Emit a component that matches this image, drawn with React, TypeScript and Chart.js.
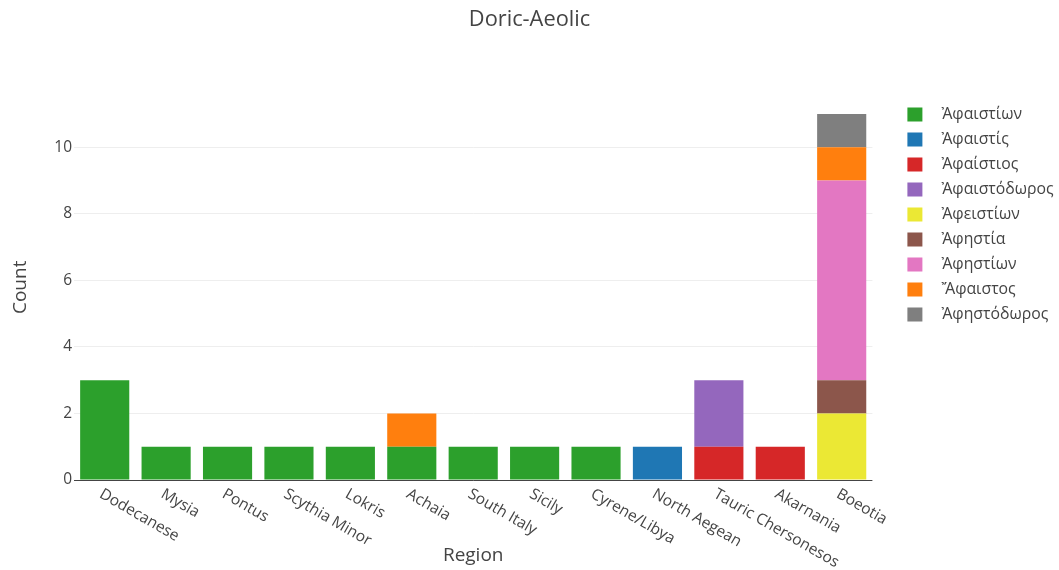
import { useEffect, useRef } from 'react';
import { Chart, registerables } from 'chart.js';

Chart.register(...registerables);

const chartTitle = 'Doric-Aeolic';
const xTitle = 'Region';
const yTitle = 'Count';

const categories = [
  'Dodecanese', 'Mysia', 'Pontus', 'Scythia Minor', 'Lokris', 'Achaia', 'South Italy',
  'Sicily', 'Cyrene/Libya', 'North Aegean', 'Tauric Chersonesos', 'Akarnania', 'Boeotia',
];

const seriesNames = [
  'Ἀφαιστίων', 'Ἀφαιστίς', 'Ἀφαίστιος', 'Ἀφαιστόδωρος', 'Ἀφειστίων',
  'Ἀφηστία', 'Ἀφηστίων', 'Ἄφαιστος', 'Ἀφηστόδωρος',
];

const seriesColors = [
  '#2ca02c', '#1f77b4', '#d62728', '#9467bd', '#ebe834',
  '#8c564b', '#e377c2', '#ff7f0e', '#7f7f7f',
];

// values per category, in the order of `categories`
const afaistion = [3, 1, 1, 1, 1, 1, 1, 1, 1, 0, 0, 0, 0];
const afaistis = [0, 0, 0, 0, 0, 0, 0, 0, 0, 1, 0, 0, 0];
const afaistios = [0, 0, 0, 0, 0, 0, 0, 0, 0, 0, 1, 1, 0];
const afaistodoros = [0, 0, 0, 0, 0, 0, 0, 0, 0, 0, 2, 0, 0];
const afeistion = [0, 0, 0, 0, 0, 0, 0, 0, 0, 0, 0, 0, 2];
const afestia = [0, 0, 0, 0, 0, 0, 0, 0, 0, 0, 0, 0, 1];
const afestion = [0, 0, 0, 0, 0, 0, 0, 0, 0, 0, 0, 0, 6];
const afaistos = [0, 0, 0, 0, 0, 1, 0, 0, 0, 0, 0, 0, 1];
const afestodoros = [0, 0, 0, 0, 0, 0, 0, 0, 0, 0, 0, 0, 1];

const seriesValues = [
  afaistion, afaistis, afaistios, afaistodoros, afeistion,
  afestia, afestion, afaistos, afestodoros,
];

const yTicks = [0, 2, 4, 6, 8, 10];
const yMax = 11.58;

const FONT = '"Open Sans", "Noto Sans", sans-serif';
const TEXT = '#444';

const rotatedXLabels = {
  id: 'rotatedXLabels',
  afterDraw(chart: any) {
    const ctx = chart.ctx;
    const xs = chart.scales.x;
    const base = chart.chartArea.bottom;
    ctx.save();
    ctx.font = `15.5px ${FONT}`;
    ctx.fillStyle = TEXT;
    ctx.textAlign = 'left';
    ctx.textBaseline = 'middle';
    (chart.data.labels as string[]).forEach((lab, i) => {
      const x = xs.getPixelForValue(i);
      ctx.save();
      ctx.translate(x - 4, base + 13);
      ctx.rotate(Math.PI / 6);
      ctx.fillText(lab, 0, 0);
      ctx.restore();
    });
    ctx.restore();
  },
};

const sideLegend = {
  id: 'sideLegend',
  afterDraw(chart: any) {
    const ctx = chart.ctx;
    const x0 = chart.chartArea.right + 35;
    ctx.save();
    ctx.font = `15.8px ${FONT}`;
    ctx.textAlign = 'left';
    ctx.textBaseline = 'middle';
    chart.data.datasets.forEach((ds: any, i: number) => {
      const y = 114.5 + i * 25;
      ctx.fillStyle = ds.backgroundColor;
      ctx.fillRect(x0, y - 7, 15, 14);
      ctx.fillStyle = TEXT;
      ctx.fillText(ds.label, x0 + 34, y);
    });
    ctx.restore();
  },
};

export default function App() {
  const ref = useRef<HTMLCanvasElement | null>(null);

  useEffect(() => {
    if (!ref.current) return;
    const chart = new Chart(ref.current, {
      type: 'bar',
      data: {
        labels: categories,
        datasets: seriesNames.map((name, i) => ({
          label: name,
          data: seriesValues[i],
          backgroundColor: seriesColors[i],
          borderWidth: 0,
          barPercentage: 0.8,
          categoryPercentage: 1,
        })),
      },
      options: {
        animation: false,
        responsive: false,
        maintainAspectRatio: false,
        devicePixelRatio: 1,
        layout: { padding: { left: 0, right: 0, top: 0, bottom: 0 } },
        plugins: {
          legend: { display: false },
          tooltip: { enabled: false },
          title: {
            display: true,
            text: chartTitle,
            color: TEXT,
            font: { family: FONT, size: 21.8, weight: 'normal' },
            padding: { top: 6.9, bottom: 61.6 },
          },
        },
        scales: {
          x: {
            stacked: true,
            grid: { display: false },
            border: { display: false },
            ticks: { display: false },
            title: {
              display: true,
              text: xTitle,
              color: TEXT,
              font: { family: FONT, size: 19 },
              padding: { top: 0, bottom: 2.6 },
            },
            afterFit(scale: any) {
              scale.height = 90;
            },
          },
          y: {
            stacked: true,
            min: 0,
            max: yMax,
            border: { display: false },
            grid: {
              drawTicks: false,
              color: (c: any) => (c.tick && c.tick.value === 0 ? '#444' : '#eeeeee'),
              lineWidth: 1,
            },
            ticks: {
              includeBounds: false,
              stepSize: 2,
              padding: 2,
              color: TEXT,
              font: { family: FONT, size: 15.5 },
              callback: (v: any) => (yTicks.includes(Number(v)) ? String(v) : ''),
            },
            title: {
              display: true,
              text: yTitle,
              color: TEXT,
              font: { family: FONT, size: 19 },
              padding: { top: 9.6, bottom: 0 },
            },
            afterFit(scale: any) {
              scale.width = 74;
            },
          },
          spacer: {
            type: 'linear',
            position: 'right',
            display: true,
            grid: { display: false },
            border: { display: false },
            ticks: { display: false },
            afterFit(scale: any) {
              scale.width = 186.6;
            },
          },
        },
      } as any,
      plugins: [rotatedXLabels, sideLegend],
    });
    return () => chart.destroy();
  }, []);

  return (
    <div style={{ position: 'absolute', left: 0, top: 0, width: 1059, height: 570, background: '#fff' }}>
      <canvas ref={ref} width={1059} height={570} style={{ width: 1059, height: 570, display: 'block' }} />
    </div>
  );
}
